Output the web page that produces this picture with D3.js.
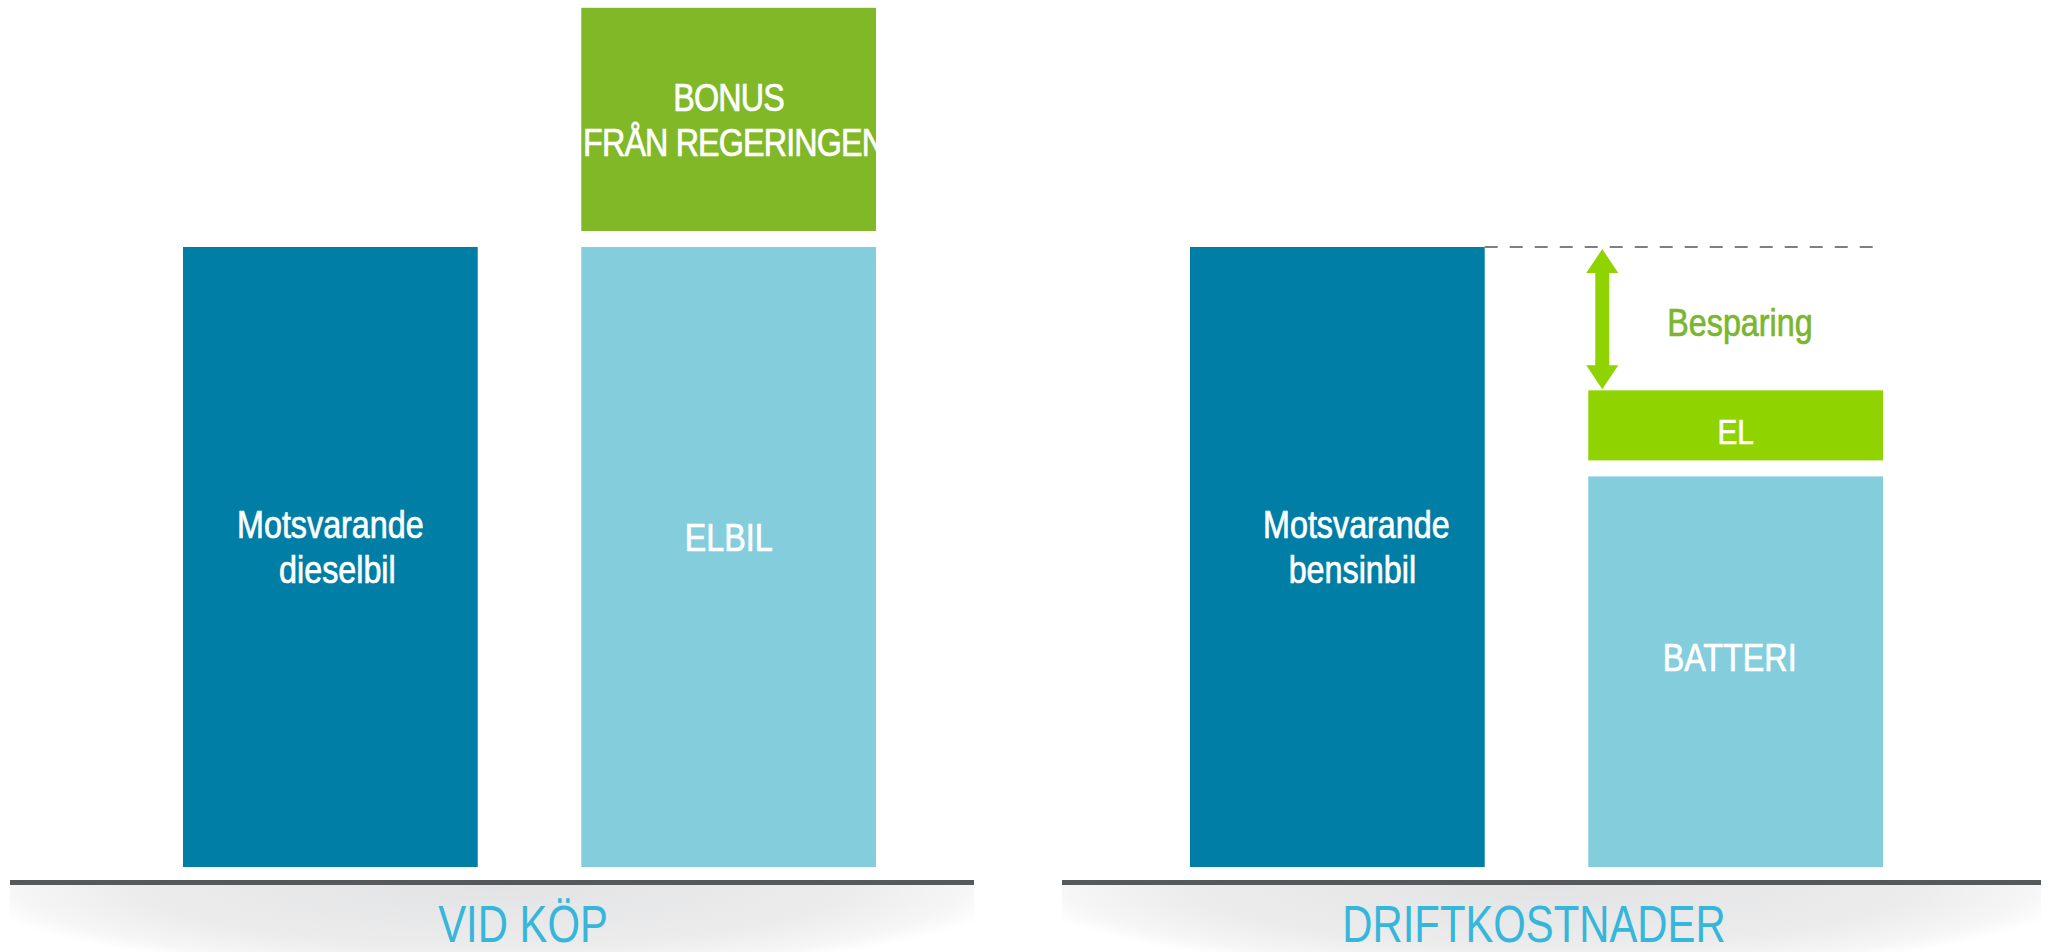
<!DOCTYPE html>
<html>
<head>
<meta charset="utf-8">
<script src="https://cdnjs.cloudflare.com/ajax/libs/d3/7.8.5/d3.min.js"></script>
<style>
  html, body { margin: 0; padding: 0; background: #fff; }
  svg { display: block; }
  text { font-family: "Liberation Sans", Arial, sans-serif; }
</style>
</head>
<body>
<div id="chart"></div>
<script>
// panel titles
var panelTitles = ["VID KÖP", "DRIFTKOSTNADER"];

// VID KÖP : base cost and bonus on top
var kopBars = ["diesel", "elbil"];
var kopBase = [100, 100];
var kopTop = [0, 36];
var kopBaseLabels = [["Motsvarande", " dieselbil"], ["ELBIL"]];
var kopTopLabels = [[], ["BONUS", "FRÅN REGERINGEN"]];

// DRIFTKOSTNADER : battery + electricity vs petrol
var driftBars = ["bensin", "elbil"];
var driftBase = [100, 63];
var driftTop = [0, 11.3];
var driftBaseLabels = [["Motsvarande", "bensinbil"], ["BATTERI"]];
var driftTopLabels = [[], ["EL"]];
var savingLabel = "Besparing";

//Width and height
var w = 2053;
var h = 952;
var baseY = 867;
var gap = 16; // white gap between stacked parts
var narrow = 0.85; // condensed look for labels

var colDark = "#007ea6";
var colLight = "#84cddd";
var colBonus = "#80b828";
var colEl = "#8fd400";
var colTitle = "#35b6da";

var svg = d3.select("#chart")
  .append("svg")
  .attr("width", w)
  .attr("height", h);

var defs = svg.append("defs");

// soft shadow under the base lines
var grad = defs.append("radialGradient")
  .attr("id", "shade")
  .attr("cx", 0.5).attr("cy", 0).attr("r", 0.5)
  .attr("fx", 0.5).attr("fy", 0)
  .attr("gradientTransform", "translate(0.5,0) scale(1.1,2.7) translate(-0.5,0)");
grad.append("stop").attr("offset", "0%").attr("stop-color", "#e2e3e4");
grad.append("stop").attr("offset", "68%").attr("stop-color", "#ececed");
grad.append("stop").attr("offset", "90%").attr("stop-color", "#f6f6f6");
grad.append("stop").attr("offset", "100%").attr("stop-color", "#ffffff");

//y scale shared by both panels
var yScale = d3.scaleLinear()
  .domain([0, 100])
  .range([baseY, 247]);

var panels = [
  {
    title: panelTitles[0], titleX: 523,
    line: [10, 974], range: [183, 876],
    bars: kopBars, base: kopBase, top: kopTop,
    baseLabels: kopBaseLabels, topLabels: kopTopLabels,
    topColor: colBonus,
    baseDy: [-10, -20], baseDx: [[0, 7], [0]],
    topDy: [0, 0], topDx: [[], [0, 5]], topSpacing: -1
  },
  {
    title: panelTitles[1], titleX: 1534,
    line: [1062, 2041], range: [1190, 1883],
    bars: driftBars, base: driftBase, top: driftTop,
    baseLabels: driftBaseLabels, topLabels: driftTopLabels,
    topColor: colEl,
    baseDy: [-10, -14], baseDx: [[19, 15], [-6]],
    topDy: [0, 6], topDx: [[], [0]], topSpacing: 0,
    saving: true
  }
];

var lineH = 45;
var clipId = 0;

function drawLabel(g, lines, cx, cy, dxs, dy, size, color, spacing) {
  var n = lines.length;
  var y0 = cy + dy + size * 0.36 - (n - 1) / 2 * lineH;
  var t = g.append("text")
    .attr("transform", "translate(" + cx + "," + y0 + ") scale(" + narrow + ",1)")
    .attr("text-anchor", "middle")
    .attr("fill", color)
    .attr("stroke", color)
    .attr("stroke-width", 0.7)
    .attr("letter-spacing", (spacing || 0) + "px")
    .attr("font-size", size + "px");
  lines.forEach(function(s, i) {
    t.append("tspan")
      .attr("x", (dxs ? dxs[i] || 0 : 0) / narrow)
      .attr("y", i * lineH)
      .text(s.trim());
  });
  return t;
}

panels.forEach(function(p) {
  var g = svg.append("g");

  var xScale = d3.scaleBand()
    .domain(p.bars)
    .range(p.range)
    .paddingInner(0.26)
    .paddingOuter(0);
  var bw = xScale.bandwidth();

  // shadow + base line
  g.append("rect")
    .attr("x", p.line[0])
    .attr("y", 885)
    .attr("width", p.line[1] - p.line[0])
    .attr("height", h - 885)
    .attr("fill", "url(#shade)");
  g.append("line")
    .attr("x1", p.line[0]).attr("x2", p.line[1])
    .attr("y1", 882.5).attr("y2", 882.5)
    .attr("stroke", "#56595c")
    .attr("stroke-width", 5);

  // base bars
  p.bars.forEach(function(b, i) {
    var x = xScale(b);
    var y = yScale(p.base[i]);
    g.append("rect")
      .attr("x", x).attr("y", y)
      .attr("width", bw).attr("height", baseY - y)
      .attr("fill", i === 0 ? colDark : colLight);
    drawLabel(g, p.baseLabels[i], x + bw / 2, (y + baseY) / 2,
      p.baseDx[i], p.baseDy[i], 38, "#fff");

    // top segment
    if (p.top[i] > 0) {
      var y1 = y - gap;
      var y0 = y1 - (yScale(0) - yScale(p.top[i]));
      var id = "clip" + (clipId++);
      defs.append("clipPath").attr("id", id)
        .append("rect")
        .attr("x", x).attr("y", y0)
        .attr("width", bw).attr("height", y1 - y0);
      g.append("rect")
        .attr("x", x).attr("y", y0)
        .attr("width", bw).attr("height", y1 - y0)
        .attr("fill", p.topColor);
      var lg = g.append("g").attr("clip-path", "url(#" + id + ")");
      drawLabel(lg, p.topLabels[i], x + bw / 2, (y0 + y1) / 2,
        p.topDx[i], p.topDy[i], p.topLabels[i].length > 1 ? 38 : 35, "#fff", p.topSpacing);

      if (p.saving) {
        var refY = yScale(p.base[0]);
        // dashed reference line
        g.append("line")
          .attr("x1", xScale(p.bars[0]) + bw)
          .attr("x2", x + bw)
          .attr("y1", refY).attr("y2", refY)
          .attr("stroke", "#7f7f7f")
          .attr("stroke-width", 2)
          .attr("stroke-dasharray", "13,12");
        // double arrow
        var ax = x + 14, ya = refY + 2, yb = y0 - 1;
        var hw = 16, hl = 24, sw = 7;
        var pts = [
          [ax, ya], [ax + hw, ya + hl], [ax + sw, ya + hl],
          [ax + sw, yb - hl], [ax + hw, yb - hl], [ax, yb],
          [ax - hw, yb - hl], [ax - sw, yb - hl], [ax - sw, ya + hl],
          [ax - hw, ya + hl]
        ];
        g.append("path")
          .attr("d", d3.line()(pts) + "Z")
          .attr("fill", colEl);
        g.append("text")
          .attr("transform", "translate(" + (ax + 65) + "," + ((ya + yb) / 2 + 17) + ") scale(" + narrow + ",1)")
          .attr("fill", "#7ab62e")
          .attr("stroke", "#7ab62e")
          .attr("stroke-width", 0.7)
          .attr("font-size", "38px")
          .text(savingLabel);
      }
    }
  });

  // panel title
  g.append("text")
    .attr("transform", "translate(" + p.titleX + ",942) scale(0.82,1)")
    .attr("text-anchor", "middle")
    .attr("fill", colTitle)
    .attr("font-size", "51px")
    .text(p.title);
});
</script>
</body>
</html>
